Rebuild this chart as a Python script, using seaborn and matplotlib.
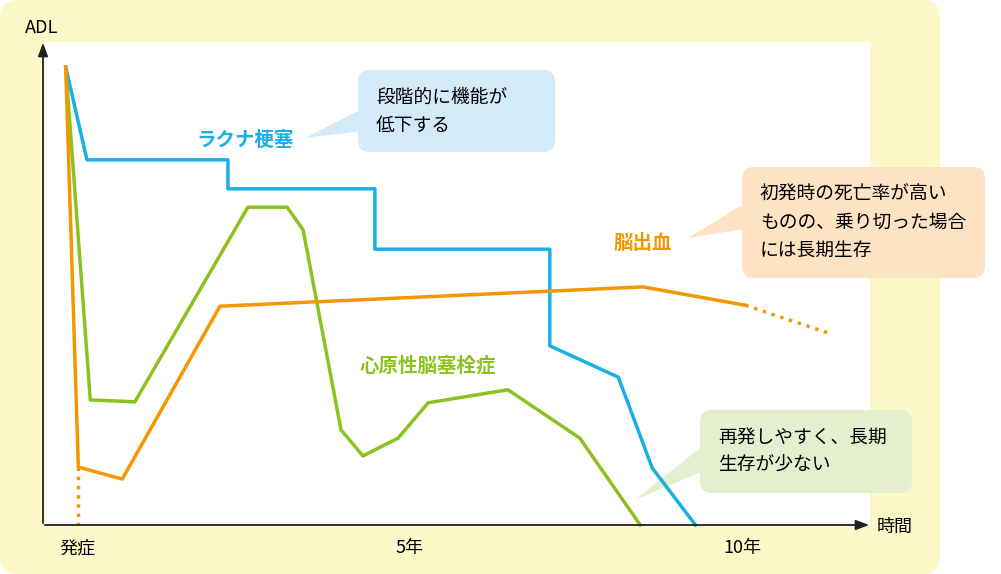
import matplotlib
matplotlib.use("Agg")
import matplotlib.pyplot as plt
import seaborn as sns
from matplotlib.patches import FancyBboxPatch, Rectangle, Polygon

plt.rcParams["font.family"] = "Noto Sans CJK JP"

W, H = 1001, 574
# data (years, ADL)
lac_x = [-0.17, 0.15, 2.27, 2.27, 4.48, 4.48, 7.11, 7.11, 8.14, 8.65, 9.3]
lac_y = [94.8, 75.6, 75.6, 69.6, 69.6, 57.1, 57.1, 37.1, 30.6, 11.8, 0]
emb_x = [-0.17, 0.2, 0.87, 2.57, 3.16, 3.4, 3.97, 4.3, 4.83, 5.28, 6.48, 7.56, 8.47]
emb_y = [94.8, 25.9, 25.5, 65.8, 65.8, 61.1, 19.7, 14.3, 18.0, 25.3, 28.0, 18.0, 0]
hem_x = [-0.17, 0.02, 0.68, 2.15, 8.51, 10.05]
hem_y = [94.8, 12.0, 9.5, 45.3, 49.3, 45.5]
hem_dot_x = [10.05, 11.35]
hem_dot_y = [45.5, 39.5]
hem_drop_x = [0.02, 0.02]
hem_drop_y = [12.0, 0]
tick_pos = [0, 5, 10]
tick_lab = ["発症", "5年", "10年"]

BLUE, GREEN, ORANGE = "#1aafe3", "#8cc21f", "#f39800"

def X(px): return (px - 77) / 66.5
def Y(py): return (525 - py) / 4.83

fig = plt.figure(figsize=(W/100, H/100), dpi=100)
bg = fig.add_axes([0, 0, 1, 1], zorder=0)
bg.set_xlim(0, W); bg.set_ylim(H, 0); bg.axis("off")
bg.add_patch(FancyBboxPatch((0, 0), 940, H, boxstyle="round,pad=0,rounding_size=18",
                            fc="#fcf8c8", ec="none"))
bg.add_patch(Rectangle((45, 42), 870-45, 525-42, fc="white", ec="none"))

ax = fig.add_axes([0, 0, 1, 1], zorder=1)
ax.set_xlim(X(0), X(W)); ax.set_ylim(Y(H), Y(0))
ax.axis("off"); ax.patch.set_alpha(0)

def line(xs, ys, c, ls="-"):
    sns.lineplot(x=xs, y=ys, ax=ax, color=c, lw=2.5, sort=False, estimator=None, linestyle=ls, zorder=3)

line(lac_x, lac_y, BLUE)
line(emb_x, emb_y, GREEN)
line(hem_x, hem_y, ORANGE)
line(hem_dot_x, hem_dot_y, ORANGE, ":")
line(hem_drop_x, hem_drop_y, ORANGE, ":")

ax.annotate("", xy=(X(872), Y(525)), xytext=(X(42), Y(525)),
            arrowprops=dict(arrowstyle="-|>,head_length=0.8,head_width=0.3", color="#222", lw=1.3))
ax.annotate("", xy=(X(43), Y(40)), xytext=(X(43), Y(526)),
            arrowprops=dict(arrowstyle="-|>,head_length=0.8,head_width=0.3", color="#222", lw=1.3))
ax.text(X(42), Y(28), "ADL", ha="center", va="center", fontsize=13)
ax.text(X(895), Y(527), "時間", ha="center", va="center", fontsize=13)
for p, l in zip(tick_pos, tick_lab):
    ax.text(p, Y(548), l, ha="center", va="center", fontsize=13)

ax.text(X(245), Y(140), "ラクナ梗塞", color=BLUE, fontsize=14, fontweight="bold", ha="center", va="center")
ax.text(X(643), Y(243), "脳出血", color=ORANGE, fontsize=14, fontweight="bold", ha="center", va="center")
ax.text(X(428), Y(366), "心原性脳塞栓症", color=GREEN, fontsize=14, fontweight="bold", ha="center", va="center")

def callout(x0, y0, x1, y1, tip, base, fc, text):
    bg.add_patch(FancyBboxPatch((x0, y0), x1-x0, y1-y0,
                                boxstyle="round,pad=0,rounding_size=12", fc=fc, ec="none", zorder=4))
    bg.add_patch(Polygon([tip, base[0], base[1]], fc=fc, ec="none", zorder=4))
    ax.text(X(x0+18), Y((y0+y1)/2), text, fontsize=13.5, ha="left", va="center", linespacing=1.45, zorder=5)

callout(358, 70, 555, 152, (305, 138), [(370, 105), (370, 130)], "#d3ebf8", "段階的に機能が\n低下する")
callout(742, 167, 985, 278, (688, 238), [(750, 200), (750, 228)], "#fde2c4", "初発時の死亡率が高い\nものの、乗り切った場合\nには長期生存")
callout(700, 410, 912, 493, (635, 500), [(710, 440), (710, 468)], "#e3efcf", "再発しやすく、長期\n生存が少ない")

fig.savefig("out.png", dpi=100)
